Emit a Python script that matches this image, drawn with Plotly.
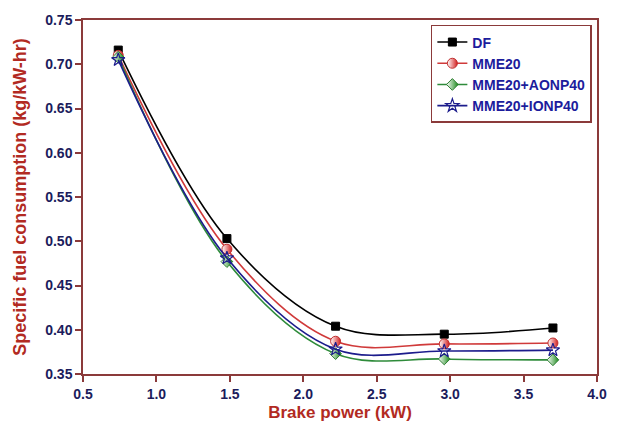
import plotly.graph_objects as go

brake_power = [0.74, 1.48, 2.22, 2.96, 3.70]
sfc_df = [0.716, 0.503, 0.404, 0.395, 0.402]
sfc_mme20 = [0.710, 0.491, 0.387, 0.384, 0.385]
sfc_aonp40 = [0.708, 0.477, 0.373, 0.367, 0.366]
sfc_ionp40 = [0.705, 0.481, 0.378, 0.376, 0.377]

x_ticks = [0.5, 1.0, 1.5, 2.0, 2.5, 3.0, 3.5, 4.0]
y_ticks = [0.35, 0.40, 0.45, 0.50, 0.55, 0.60, 0.65, 0.70, 0.75]

axis_col = "#8b3a3a"
title_col = "#b22a22"
tick_col = "#1c1c5c"
font_fam = "Liberation Sans, Arial, sans-serif"

fig = go.Figure()

def add(name, y, lcol, marker):
    fig.add_trace(go.Scatter(
        x=brake_power, y=y, name=name, mode="lines+markers",
        line=dict(color=lcol, width=1.6, shape="spline", smoothing=1.0),
        marker=marker,
    ))

add("DF", sfc_df, "#000000",
    dict(symbol="square", size=8, color="#000000", line=dict(color="#000000", width=1)))
add("MME20", sfc_mme20, "#d03a3a",
    dict(symbol="circle", size=10, color="#ffffff",
         gradient=dict(type="horizontal", color="#d42020"),
         line=dict(color="#c03030", width=1)))
add("MME20+AONP40", sfc_aonp40, "#2e8b3a",
    dict(symbol="diamond", size=9, color="#ffffff",
         gradient=dict(type="horizontal", color="#1a8a1a"),
         line=dict(color="#2e7d32", width=1)))
add("MME20+IONP40", sfc_ionp40, "#1c1c8c",
    dict(symbol="star-open", size=10, color="#1c1c8c", line=dict(color="#1c1c8c", width=1.2)))

fig.update_layout(
    width=619, height=432,
    margin=dict(l=83, r=22, t=18, b=58),
    paper_bgcolor="white", plot_bgcolor="white",
    font=dict(family=font_fam),
    showlegend=True,
    legend=dict(
        x=0.99, y=0.986, xanchor="right", yanchor="top",
        bgcolor="white", bordercolor=axis_col, borderwidth=1.5,
        font=dict(size=14, color="#1c1c9c", family=font_fam, weight="bold"),
        tracegroupgap=0, itemwidth=30,
    ),
    xaxis=dict(
        range=[0.5, 4.0], tickvals=x_ticks, ticktext=[f"{v:.1f}" for v in x_ticks],
        showgrid=False, zeroline=False, showline=True, linecolor=axis_col, linewidth=1.5,
        mirror=True, ticks="outside", ticklen=6, tickcolor=axis_col, tickwidth=1.5,
        tickfont=dict(size=14, color=tick_col, weight="bold"),
        title=dict(text="Brake power (kW)", font=dict(size=17, color=title_col, weight="bold"), standoff=6),
    ),
    yaxis=dict(
        range=[0.35, 0.75], tickvals=y_ticks, ticktext=[f"{v:.2f}" for v in y_ticks],
        showgrid=False, zeroline=False, showline=True, linecolor=axis_col, linewidth=1.5,
        mirror=True, ticks="outside", ticklen=6, tickcolor=axis_col, tickwidth=1.5,
        tickfont=dict(size=14, color=tick_col, weight="bold"),
        title=dict(text="Specific fuel consumption (kg/kW-hr)", font=dict(size=18, color=title_col, weight="bold"), standoff=14),
    ),
)

fig.write_html("out.html", config={"displayModeBar": False},
               post_script="document.body.style.margin='0';")
